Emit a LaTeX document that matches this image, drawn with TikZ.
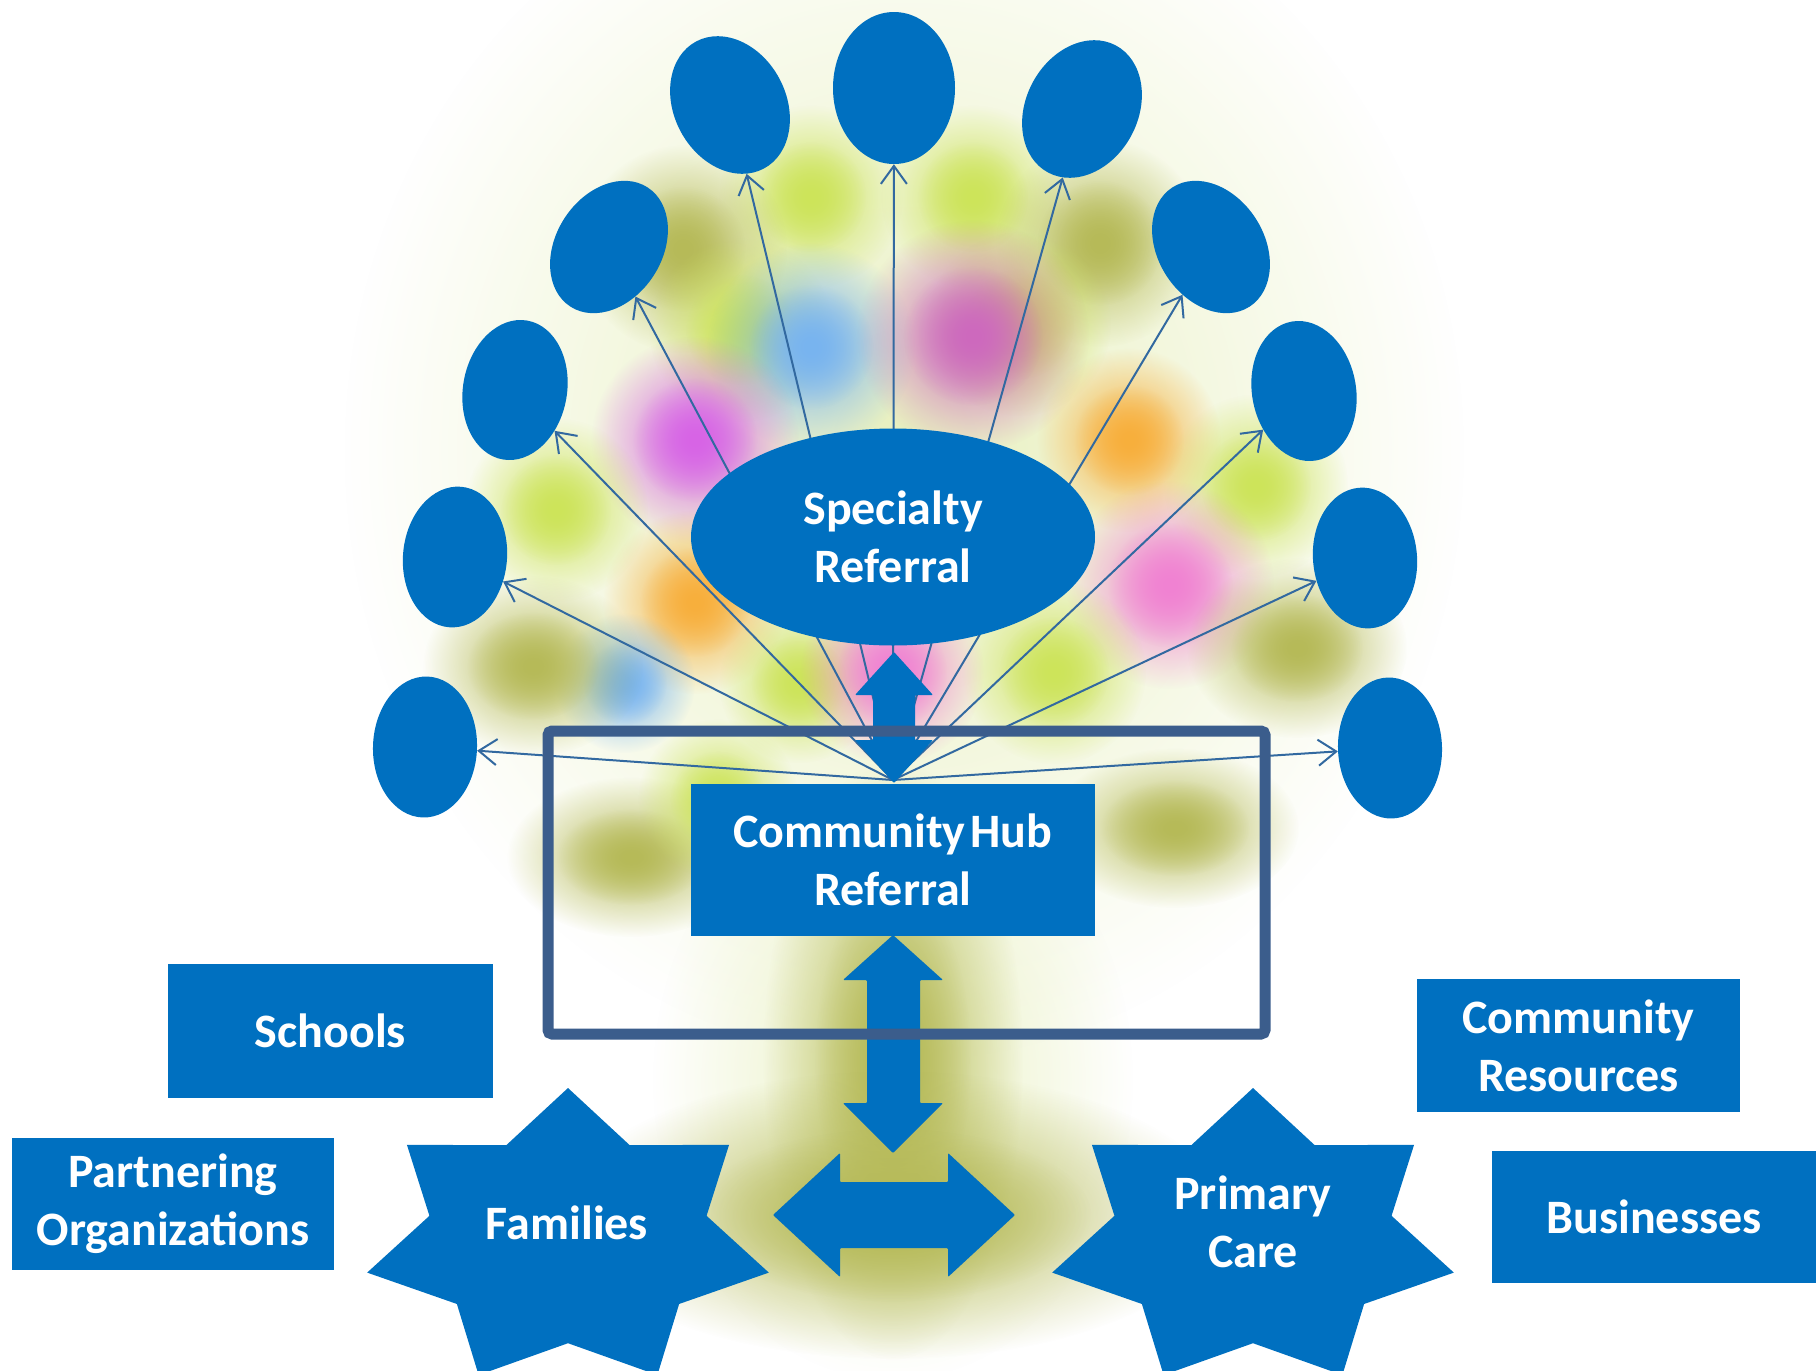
\documentclass[tikz,border=0pt]{standalone}
\usepackage{fontspec}
\setmainfont{Carlito}
\usetikzlibrary{shapes.geometric,arrows.meta,fadings}
\definecolor{boxblue}{RGB}{0,112,192}
\definecolor{frameblue}{RGB}{59,93,140}
\definecolor{linkblue}{RGB}{50,105,160}
\definecolor{bLime}{RGB}{205,228,90}
\definecolor{bOlive}{RGB}{182,186,88}
\definecolor{bViolet}{RGB}{215,100,230}
\definecolor{bMag}{RGB}{205,105,190}
\definecolor{bBlue}{RGB}{120,180,240}
\definecolor{bOrange}{RGB}{248,175,60}
\definecolor{bPink}{RGB}{240,130,210}
\definecolor{bHaze}{RGB}{232,240,190}
\tikzfading[name=softblob, inner color=transparent!0, outer color=transparent!100]
\tikzset{
  lbl/.style={text=white, font=\fontsize{48}{58}\selectfont\bfseries, align=center, inner sep=0pt},
  bluebox/.style={rectangle, fill=boxblue, lbl},
  balloon/.style={ellipse, fill=boxblue, inner sep=0pt},
  link/.style={draw=linkblue, line width=2pt, -{Straight Barb[length=18pt, width=26pt, line width=2pt]}},
  blockarrow/.style={fill=boxblue, rounded corners=1pt},
}
\begin{document}
\begin{tikzpicture}[x=1pt,y=1pt]
\useasboundingbox (0,0) rectangle (1816,-1371);
\fill[white] (0,0) rectangle (1816,-1371);
% soft background
\fill[bHaze, path fading=softblob] (905,-450) ellipse (560 and 610);
\fill[bHaze, path fading=softblob] (893,-1080) ellipse (240 and 300);
\foreach \x/\y/\rx/\ry/\c in {
  811/197/46/46/bLime, 973/197/46/46/bLime, 683/249/52/52/bOlive, 1100/243/52/52/bOlive,
  741/330/46/46/bLime, 1019/324/46/46/bLime, 811/347/52/52/bBlue, 973/336/58/58/bMag,
  695/440/52/52/bViolet, 1129/440/46/46/bOrange, 556/510/46/46/bLime, 1256/486/46/46/bLime,
  695/602/46/46/bOrange, 1170/585/52/52/bPink, 625/683/35/35/bBlue, 533/666/55/45/bOlive,
  1297/648/55/45/bOlive, 1054/672/46/46/bLime, 799/683/40/40/bLime, 892/672/46/46/bPink,
  631/857/62/40/bOlive, 1175/828/62/40/bOlive, 718/799/40/40/bLime,
  893/1060/65/150/bOlive, 893/1215/165/72/bOlive}
  {\fill[\c, path fading=softblob] (\x,-\y) ellipse ({2*\rx} and {2*\ry});
   \fill[\c, path fading=softblob] (\x,-\y) ellipse ({1.2*\rx} and {1.2*\ry});}

% balloons
\node[balloon, minimum width=112, minimum height=144, rotate=28] (bL1) at (730,-105) {};
\node[balloon, minimum width=122, minimum height=152] (bC) at (894,-88) {};
\node[balloon, minimum width=112, minimum height=144, rotate=-28] (bR1) at (1082,-109) {};
\node[balloon, minimum width=106, minimum height=142, rotate=-33] (bL2) at (609,-247) {};
\node[balloon, minimum width=106, minimum height=142, rotate=33] (bR2) at (1211,-247) {};
\node[balloon, minimum width=104, minimum height=141, rotate=-10] (bL3) at (515,-390) {};
\node[balloon, minimum width=104, minimum height=141, rotate=10] (bR3) at (1304,-391) {};
\node[balloon, minimum width=104, minimum height=141, rotate=-5] (bL4) at (455,-557) {};
\node[balloon, minimum width=104, minimum height=141, rotate=5] (bR4) at (1365,-558) {};
\node[balloon, minimum width=104, minimum height=141, rotate=-2] (bL5) at (425,-747) {};
\node[balloon, minimum width=104, minimum height=141, rotate=2] (bR5) at (1390,-748) {};

% links from hub
\coordinate (src) at (893,-780);
\foreach \b in {bL1,bC,bR1,bL2,bR2,bL3,bR3,bL4,bR4,bL5,bR5}
  {\draw[link] (src) -- (\b);}

% specialty referral
\node[ellipse, fill=boxblue, minimum width=404, minimum height=217, lbl] (spec) at (893,-537) {Specialty\\Referral};

% upper double arrow
\fill[blockarrow] (894,-652) -- (933,-695) -- (915,-695) -- (915,-740) -- (933,-740) -- (894,-783)
  -- (855,-740) -- (873,-740) -- (873,-695) -- (855,-695) -- cycle;

% hub
\node[bluebox, minimum width=404, minimum height=152] (hub) at (893,-860) {Community\hspace{-0.12em} Hub\\Referral};

% lower vertical double arrow
\fill[blockarrow] (893,-935) -- (943,-980) -- (920,-980) -- (920,-1103) -- (943,-1103) -- (893,-1153)
  -- (843,-1103) -- (867,-1103) -- (867,-980) -- (843,-980) -- cycle;

% horizontal double arrow
\fill[blockarrow] (773,-1215) -- (840,-1153) -- (840,-1182) -- (948,-1182) -- (948,-1153) -- (1015,-1215)
  -- (948,-1277) -- (948,-1248) -- (840,-1248) -- (840,-1277) -- cycle;

% frame
\node[draw=frameblue, line width=11pt, rounded corners=4pt, minimum width=717, minimum height=303, inner sep=0pt] (frame) at (906.5,-882.5) {};

% side boxes
\node[bluebox, minimum width=325, minimum height=134] (schools) at (330.5,-1031) {Schools};
\node[bluebox, minimum width=322, minimum height=132] (partners) at (173,-1204) {Partnering\\Organizations};
\node[bluebox, minimum width=323, minimum height=133] (resources) at (1578.5,-1045.5) {Community\\Resources};
\node[bluebox, minimum width=324, minimum height=132] (business) at (1654,-1217) {Businesses};

% stars
\foreach \cx in {568,1253}{
  \fill[boxblue] plot[samples at={0,...,13}, variable=\k]
    ({\cx+206*(1-0.31*mod(\k,2))*cos(90+\k*360/14)}, {-1239+151*(1-0.31*mod(\k,2))*sin(90+\k*360/14)}) -- cycle;
}
\node[lbl] (families) at (567,-1223) {Families};
\node[lbl] (primary) at (1253,-1222) {Primary\\Care};
\end{tikzpicture}
\end{document}
